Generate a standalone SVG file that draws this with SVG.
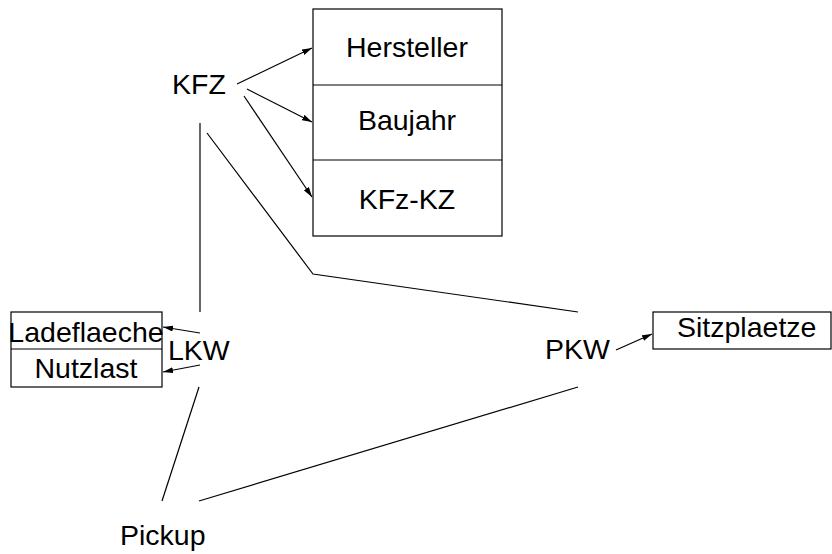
<svg xmlns="http://www.w3.org/2000/svg" width="832" height="554" viewBox="0 0 832 554">
<defs>
<style>
text{font-family:"Liberation Sans",Arial,sans-serif;font-size:28.5px;fill:#000}
.box{fill:#fff;stroke:#000;stroke-width:1.2}
.c{stroke:#000;stroke-width:1.2;fill:none}
</style>
<marker id="ah" viewBox="0 0 10 6" refX="10" refY="3" markerWidth="10" markerHeight="6" markerUnits="userSpaceOnUse" orient="auto">
<path d="M0,0 L10,3 L0,6 z" fill="#000"/>
</marker>
</defs>
<rect width="832" height="554" fill="#fff"/>
<g id="connectors">
<line class="c" x1="237" y1="84" x2="312" y2="48" marker-end="url(#ah)"/>
<line class="c" x1="247" y1="89" x2="312" y2="122" marker-end="url(#ah)"/>
<line class="c" x1="244" y1="96" x2="312" y2="197" marker-end="url(#ah)"/>
<line class="c" x1="200" y1="123" x2="200" y2="312"/>
<polyline class="c" points="207,133 313,274 578,312"/>
<line class="c" x1="200" y1="333" x2="163" y2="327" marker-end="url(#ah)"/>
<line class="c" x1="200" y1="365" x2="163" y2="372" marker-end="url(#ah)"/>
<line class="c" x1="199" y1="387" x2="162" y2="501"/>
<line class="c" x1="199" y1="501" x2="578" y2="387"/>
<line class="c" x1="616" y1="350" x2="652" y2="334" marker-end="url(#ah)"/>
</g>
<g id="KFZ"><text x="172" y="94">KFZ</text></g>
<g id="KFZ-attrs">
<rect class="box" x="313" y="9" width="189" height="227"/>
<line class="c" x1="313" y1="85" x2="502" y2="85"/>
<line class="c" x1="313" y1="160" x2="502" y2="160"/>
<text x="407" y="57" text-anchor="middle">Hersteller</text>
<text x="407" y="130" text-anchor="middle">Baujahr</text>
<text x="407" y="209" text-anchor="middle">KFz-KZ</text>
</g>
<g id="LKW-attrs">
<rect class="box" x="11" y="312" width="151" height="75"/>
<line class="c" x1="11" y1="349" x2="162" y2="349"/>
<text x="86" y="342" text-anchor="middle">Ladeflaeche</text>
<text x="86" y="378" text-anchor="middle">Nutzlast</text>
</g>
<g id="LKW"><text x="168" y="360">LKW</text></g>
<g id="PKW"><text x="545" y="359">PKW</text></g>
<g id="PKW-attrs">
<rect class="box" x="653" y="312" width="178" height="37"/>
<text x="677" y="337">Sitzplaetze</text>
</g>
<g id="Pickup"><text x="120" y="545">Pickup</text></g>
</svg>
